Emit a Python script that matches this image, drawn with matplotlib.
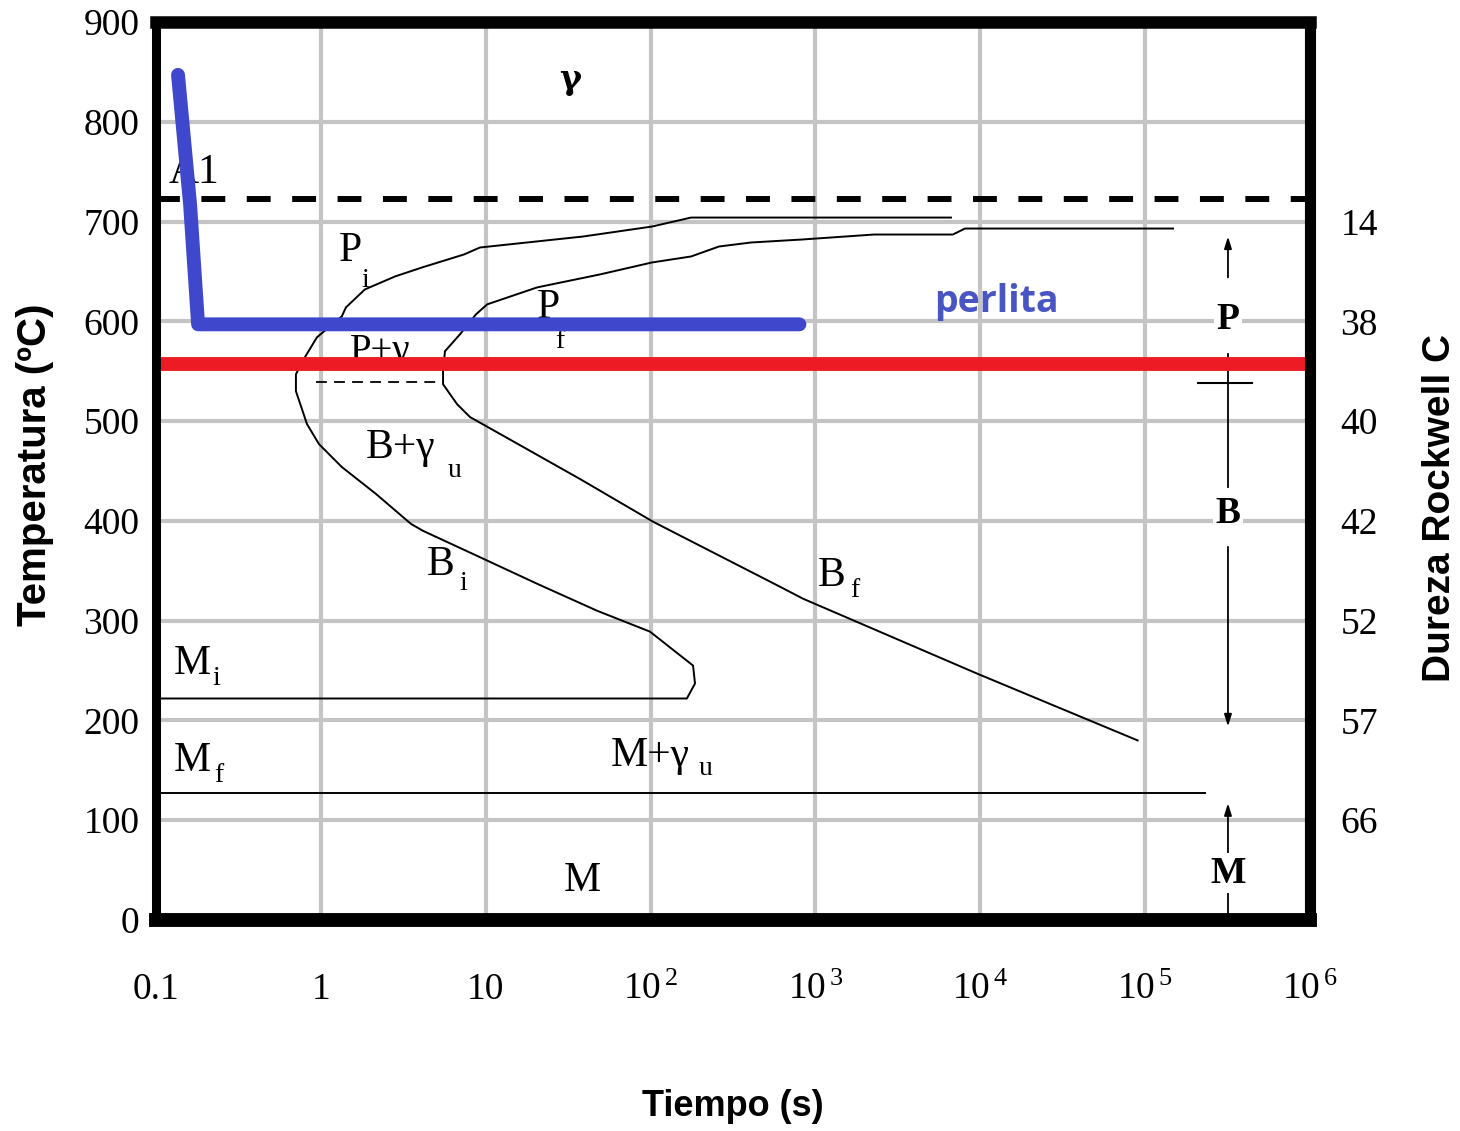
import matplotlib
matplotlib.use("Agg")
import matplotlib.pyplot as plt
from matplotlib.ticker import NullLocator

plt.rcParams['mathtext.fontset'] = 'custom'
plt.rcParams['mathtext.rm'] = 'Liberation Serif'
plt.rcParams['mathtext.it'] = 'Liberation Serif'

# ---------------- data ----------------
x_ticks = [0.1, 1, 10, 100, 1e3, 1e4, 1e5, 1e6]
x_tick_labels = ["0.1", "1", "10", "10$^{\\,2}$", "10$^{\\,3}$", "10$^{\\,4}$", "10$^{\\,5}$", "10$^{\\,6}$"]
y_ticks = [0, 100, 200, 300, 400, 500, 600, 700, 800, 900]
y_tick_labels = ["0", "100", "200", "300", "400", "500", "600", "700", "800", "900"]
hrc_ticks = [700, 600, 500, 400, 300, 200, 100]
hrc_labels = ["14", "38", "40", "42", "52", "57", "66"]

# start-of-transformation curve (Pi / Bi), closed by the Mi line
start_t = [6640, 176, 102, 38.9, 9.23, 7.38, 4.11, 2.82, 1.85, 1.42, 1.34, 0.947,
           0.80, 0.706, 0.706, 0.824, 0.974, 1.34, 2.16, 3.52, 4.17, 8.85, 20.5,
           47.3, 99.2, 181, 186, 166, 0.1]
start_T = [704, 704, 695, 685, 674, 667, 654, 645, 632, 614, 605, 584,
           564, 547, 530, 497, 477, 454, 427, 397, 390, 365, 337,
           310, 289, 255, 237, 222, 222]

# end-of-transformation curve (Pf / Bf)
end_t = [1.476e5, 8070, 6820, 2265, 828, 406, 260, 176, 102, 49.3, 20.5, 10.2,
         8.73, 6.98, 5.66, 5.51, 5.51, 6.70, 8.04, 15.7, 37.3, 104, 610, 841,
         9550, 90000]
end_T = [693, 693, 687, 687, 682, 679, 675, 665, 659, 647, 634, 617,
         607, 587, 570, 550, 537, 517, 504, 477, 442, 399, 334, 322,
         247, 180]

mf_t = [0.1, 2.3e5]
mf_T = [127, 127]

a1_T = 723            # dashed line
iso_T = 557           # red isotherm
pg_t = [0.934, 5.28]  # thin dashed P+gamma / B limit
pg_T = [539, 539]

path_t = [0.136, 0.161, 0.180, 800]   # blue cooling path
path_T = [847, 717, 597, 597]

# ---------------- figure ----------------
W, H = 1460, 1131
fig = plt.figure(figsize=(W / 100, H / 100), dpi=100)
L, R, B, T = 156, 1310, 920, 22
ax = fig.add_axes([L / W, 1 - B / H, (R - L) / W, (B - T) / H])
ax.set_xscale('log')
ax.set_xlim(0.1, 1e6)
ax.set_ylim(0, 900)
ax.set_xticks(x_ticks)
ax.set_xticklabels(x_tick_labels)
ax.xaxis.set_minor_locator(NullLocator())
ax.set_yticks(y_ticks)
ax.set_yticklabels(y_tick_labels)
ax.grid(True, color='#c4c4c4', lw=3)
ax.set_axisbelow(True)
ax.tick_params(axis='x', length=0, pad=38, labelsize=27)
ax.tick_params(axis='y', length=0, pad=12, labelsize=27)
for lab in ax.get_xticklabels() + ax.get_yticklabels():
    lab.set_family('Liberation Serif')

for s, lw in zip(['top', 'bottom', 'left', 'right'], [9, 10, 6.5, 8]):
    ax.spines[s].set_linewidth(lw)
    ax.spines[s].set_color('black')
    ax.spines[s].set_zorder(10)

ax2 = ax.twinx()
ax2.set_ylim(0, 900)
ax2.set_yticks(hrc_ticks)
ax2.set_yticklabels(hrc_labels)
ax2.tick_params(axis='y', length=0, pad=22, labelsize=27)
for lab in ax2.get_yticklabels():
    lab.set_family('Liberation Serif')
for s in ax2.spines.values():
    s.set_visible(False)

# curves
ax.plot(start_t, start_T, color='black', lw=1.4, zorder=2)
ax.plot(end_t, end_T, color='black', lw=1.4, zorder=2)
ax.plot(mf_t, mf_T, color='black', lw=1.4, zorder=2)
ax.plot(pg_t, pg_T, color='black', lw=1.3, dashes=(6, 4), zorder=2)
ax.plot([0.1, 1e6], [a1_T, a1_T], color='black', lw=4.3, dashes=(4, 3.6),
        solid_capstyle='butt', dash_capstyle='butt', zorder=3)
ax.plot([0.1, 1e6], [iso_T, iso_T], color='#ed1c24', lw=10, solid_capstyle='butt', zorder=6)
ax.plot(path_t, path_T, color='#3f48cc', lw=10, solid_capstyle='round',
        solid_joinstyle='round', zorder=7)

serif = 'Liberation Serif'


def lab(t, temp, s, size=30, z=4, **kw):
    ax.text(t, temp, s, ha='center', va='center', fontsize=size, family=serif,
            zorder=z, **kw)


ax.text(32.4, 842, 'γ', ha='center', va='center', fontsize=24, fontweight='bold',
        family='DejaVu Serif', zorder=4)
lab(0.170, 749, 'A1', z=4)
lab(1.50, 671, 'P')
lab(1.87, 641, 'i', size=20)
lab(2.28, 570, 'P+γ', size=28)
lab(23.9, 614, 'P')
lab(28.2, 580, 'f', size=20)
lab(3.06, 473, 'B+γ')
lab(6.50, 451, 'u', size=20)
lab(5.36, 356, 'B')
lab(7.28, 337, 'i', size=20)
lab(1261, 345, 'B')
lab(1740, 330, 'f', size=20)
lab(0.165, 257, 'M')
lab(0.231, 242, 'i', size=20)
lab(0.165, 160, 'M')
lab(0.240, 145, 'f', size=20)
lab(99.2, 165, 'M+γ')
lab(215, 152, 'u', size=20)
lab(38.4, 39, 'M')

ax.text(12600, 619, 'perlita', ha='center', va='center', fontsize=27,
        fontweight='bold', family='Open Sans', color='#4a55c4', zorder=4)

# right-hand hardness bands
xr = 3.18e5
box = dict(fc='white', ec='none', pad=2)
arrow = dict(arrowstyle='-|>,head_length=0.7,head_width=0.22', color='black', lw=1.3,
             shrinkA=0, shrinkB=0)
ax.annotate('', xy=(xr, 685), xytext=(xr, 644), arrowprops=arrow, zorder=4)
lab(xr, 602, 'P', size=27, weight='bold', bbox=box)
ax.plot([xr, xr], [567, 538], color='black', lw=1.3, zorder=3)
ax.plot([2.09e5, 4.45e5], [538, 538], color='black', lw=1.5, zorder=3)
ax.plot([xr, xr], [538, 434], color='black', lw=1.3, zorder=3)
lab(xr, 407, 'B', size=27, weight='bold', bbox=box)
ax.annotate('', xy=(xr, 194), xytext=(xr, 374), arrowprops=arrow, zorder=4)
ax.annotate('', xy=(xr, 117), xytext=(xr, 67), arrowprops=arrow, zorder=4)
lab(xr, 47, 'M', size=27, weight='bold', bbox=box)
ax.plot([xr, xr], [30, 0], color='black', lw=1.3, zorder=3)

# axis titles
fig.text(733 / W, 1 - 1107 / H, 'Tiempo (s)', ha='center', va='center', fontsize=26,
         fontweight='bold', family=['Liberation Sans Narrow', 'Liberation Sans'])
fig.text(35 / W, 1 - 465 / H, 'Temperatura (ºC)', ha='center', va='center', fontsize=29,
         fontweight='bold', family='Liberation Sans', rotation=90)
fig.text(1440 / W, 1 - 508 / H, 'Dureza Rockwell C', ha='center', va='center', fontsize=28,
         fontweight='bold', family='Liberation Sans', rotation=90)

fig.savefig('out.png', dpi=100, facecolor='white')
